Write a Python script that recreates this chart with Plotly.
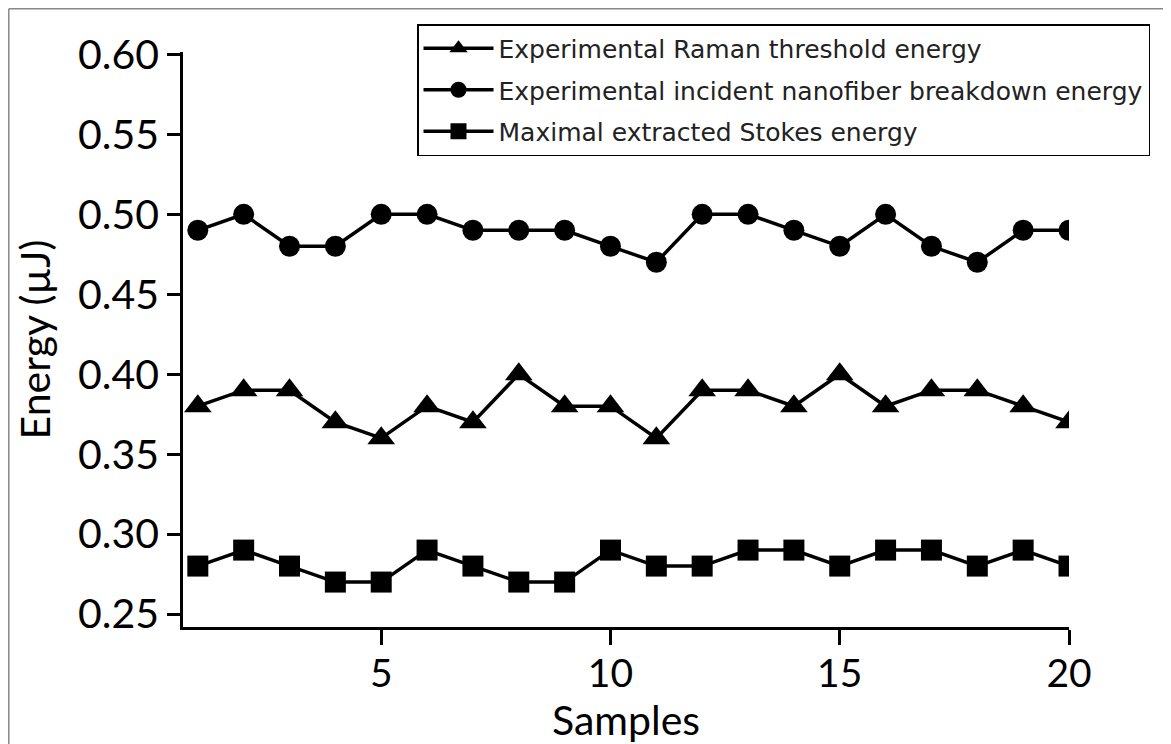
import plotly.graph_objects as go

samples = list(range(1, 21))
raman_threshold = [0.38, 0.39, 0.39, 0.37, 0.36, 0.38, 0.37, 0.40, 0.38, 0.38,
                   0.36, 0.39, 0.39, 0.38, 0.40, 0.38, 0.39, 0.39, 0.38, 0.37]
breakdown = [0.49, 0.50, 0.48, 0.48, 0.50, 0.50, 0.49, 0.49, 0.49, 0.48,
             0.47, 0.50, 0.50, 0.49, 0.48, 0.50, 0.48, 0.47, 0.49, 0.49]
stokes = [0.28, 0.29, 0.28, 0.27, 0.27, 0.29, 0.28, 0.27, 0.27, 0.29,
          0.28, 0.28, 0.29, 0.29, 0.28, 0.29, 0.29, 0.28, 0.29, 0.28]
names = ["Experimental Raman threshold energy",
         "Experimental incident nanofiber breakdown energy",
         "Maximal extracted Stokes energy"]
symbols = ["triangle-up", "circle", "square"]
sizes = [24, 21, 21]

fig = go.Figure()
for i, (vals, nm, sym, sz) in enumerate(zip([raman_threshold, breakdown, stokes], names, symbols, sizes)):
    fig.add_trace(go.Scatter(
        x=samples, y=vals, name=nm, mode="lines+markers",
        line=dict(color="black", width=3.5),
        marker=dict(symbol=sym, size=sz, color="black"),
        legendgroup=f"g{i}",
    ))

# page offset of the figure (default body margin) is 8 px
OFF = 8
W, H = 1163, 736
L, R, T, B = 183 - OFF, 1171 - 1069, 52 - OFF, 744 - 627
PW, PH = W - L - R, H - T - B

def px(x):
    return (x - OFF - L) / PW

def py(y):
    return (H - B - (y - OFF)) / PH

fig.update_layout(
    width=W, height=H,
    margin=dict(l=L, r=R, t=T, b=B, autoexpand=False),
    paper_bgcolor="white", plot_bgcolor="white",
    font=dict(family="Lato, Open Sans, sans-serif", color="black"),
    showlegend=True,
    legend=dict(
        x=px(417), y=py(24),
        xanchor="left", yanchor="top",
        bordercolor="black", borderwidth=1.5, bgcolor="white",
        font=dict(family="DejaVu Sans, sans-serif", size=25, color="#222"),
        tracegroupgap=6, itemwidth=70,
    ),
    xaxis=dict(
        range=[0.677, 20], showline=True, linecolor="black", linewidth=2.5,
        ticks="outside", tickcolor="black", tickwidth=2.5, ticklen=15,
        tick0=0, dtick=5, showgrid=False, zeroline=False,
        tickfont=dict(size=39), ticklabelstandoff=-5,
        title=dict(text="Samples", font=dict(size=41), standoff=0),
    ),
    yaxis=dict(
        range=[0.2419, 0.6015], showline=True, linecolor="black", linewidth=2.5,
        ticks="outside", tickcolor="black", tickwidth=2.5, ticklen=13,
        tick0=0.25, dtick=0.05, tickformat=".2f", showgrid=False, zeroline=False,
        tickfont=dict(size=41), ticklabelstandoff=0,
        title=dict(text="Energy (µJ)", font=dict(size=41), standoff=15),
    ),
    shapes=[
        dict(type="line", xref="paper", yref="paper", x0=px(8.8), x1=px(1171),
             y0=py(8.8), y1=py(8.8), line=dict(color="#888", width=1.5)),
        dict(type="line", xref="paper", yref="paper", x0=px(8.8), x1=px(8.8),
             y0=py(8.8), y1=py(744), line=dict(color="#888", width=1.5)),
    ],
)

fig.write_html("out.html")
